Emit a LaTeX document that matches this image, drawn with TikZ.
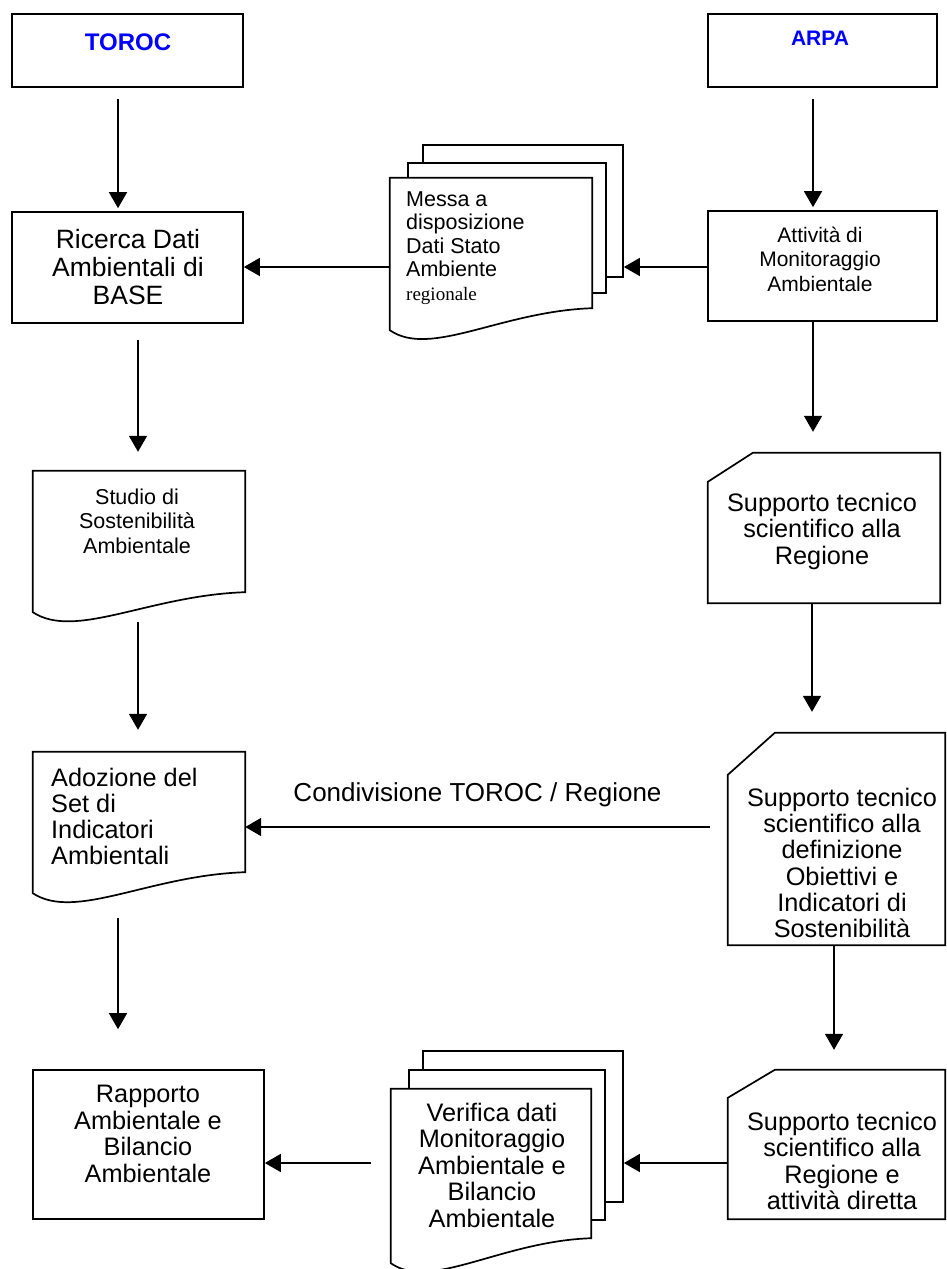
\documentclass[tikz,border=0pt]{standalone}
\usepackage{fontspec}
\setmainfont{Liberation Sans}
\newfontfamily\regfont{Liberation Serif}
\usetikzlibrary{positioning,arrows.meta,calc}
\definecolor{cHead}{HTML}{0000FF}

\tikzset{
  frame/.style={draw=black, line width=1.7pt, fill=white},
  box/.style={frame, rectangle, inner sep=0pt},
  blank/.style={rectangle, inner sep=0pt},
  txt/.style={align=center, inner sep=0pt},
  headtxt/.style={txt, text=cHead, font=\bfseries},
  arr/.style={line width=1.6pt, -{Triangle[length=16pt,width=18pt]}},
}
% sheet with a wavy foot
\newcommand{\docsheet}[2]{%
  \draw[frame] (#1.south west) -- (#1.north west) -- (#1.north east)
    -- ($(#1.south east)+(0,-#2)$)
    .. controls ($(#1.south west)!0.55!(#1.south east)+(0,-#2+3)$)
       and ($(#1.south west)!0.2!(#1.south east)+(0,28)$) .. (#1.south west) -- cycle;}
% card with the top left corner cut
\newcommand{\cardsheet}[3]{%
  \draw[frame] ($(#1.north west)+(0,#3)$) -- ($(#1.north west)+(#2,0)$)
    -- (#1.north east) -- (#1.south east) -- (#1.south west) -- cycle;}

\begin{document}
\begin{tikzpicture}[x=1pt, y=-1pt]
  \useasboundingbox (0,0) rectangle (947,1269);
  \coordinate (toprow) at (0,267);
  \coordinate (midrow) at (0,827);
  \coordinate (lowrow) at (0,1163);

  % TOROC side
  \node[box, minimum width=231pt, minimum height=73pt]  (toroc)   at (127.5,50.5)  {};
  \node[box, minimum width=231pt, minimum height=111pt] (ricerca) at (127.5,267.5) {};
  \node[blank, minimum width=212pt, minimum height=141pt] (studio)   at (139,541.5) {};
  \node[blank, minimum width=212pt, minimum height=141pt] (adozione) at (139,822.5) {};
  \node[box, minimum width=231pt, minimum height=149pt] (rapporto) at (148.5,1144.5) {};
  \docsheet{studio}{20}
  \docsheet{adozione}{21}

  % ARPA side
  \node[box, minimum width=229pt, minimum height=73pt]  (arpa)     at (822.5,50.5) {};
  \node[box, minimum width=229pt, minimum height=110pt] (attivita) at (822.5,266)  {};
  \node[blank, minimum width=232pt, minimum height=150pt] (supporto1) at (824,528)     {};
  \node[blank, minimum width=217pt, minimum height=212pt] (supporto2) at (836.5,839)   {};
  \node[blank, minimum width=217pt, minimum height=149pt] (supporto3) at (836.5,1144.5) {};
  \cardsheet{supporto1}{45}{29}
  \cardsheet{supporto2}{47}{42}
  \cardsheet{supporto3}{47}{28}

  % stacked sheets
  \node[box, minimum width=200pt, minimum height=132pt] (messaback) at (523,211) {};
  \node[box, minimum width=198pt, minimum height=130pt] (messamid)  at (507,228) {};
  \node[blank, minimum width=202pt, minimum height=152pt] (messa)   at (491,254) {};
  \docsheet{messa}{22}
  \node[box, minimum width=200pt, minimum height=151pt] (verifback) at (523,1126.5) {};
  \node[box, minimum width=196pt, minimum height=150pt] (verifmid)  at (507,1145)   {};
  \node[blank, minimum width=200pt, minimum height=174pt] (verifica) at (491,1176)  {};
  \docsheet{verifica}{25}

  % texts
  \node[headtxt, font=\fontsize{24}{28}\selectfont\bfseries] (torocTxt) at (128,42) {TOROC};
  \node[headtxt, font=\fontsize{21}{25}\selectfont\bfseries] (arpaTxt)  at (820,38) {ARPA};
  \node[txt, font=\fontsize{26.5}{28}\selectfont] (ricercaTxt) at (128,267)
    {Ricerca Dati\\Ambientali di\\BASE};
  \node[txt, font=\fontsize{21}{24.5}\selectfont] (attivitaTxt) at (820,259)
    {Attività di\\Monitoraggio\\Ambientale};
  \node[txt, align=left, anchor=west, font=\fontsize{21.5}{23.5}\selectfont] (messaTxt) at (406,248)
    {Messa a\\disposizione\\Dati Stato\\Ambiente\\{\regfont\fontsize{19}{23.5}\selectfont regionale}};
  \node[txt, font=\fontsize{21.5}{24.5}\selectfont] (studioTxt) at (137,521)
    {Studio di\\Sostenibilità\\Ambientale};
  \node[txt, font=\fontsize{25.3}{26.5}\selectfont] (supporto1Txt) at (822,531)
    {Supporto tecnico\\scientifico alla\\Regione};
  \node[txt, align=left, anchor=west, font=\fontsize{25.3}{26}\selectfont] (adozioneTxt) at (51,816)
    {Adozione del\\Set di\\Indicatori\\Ambientali};
  \node[txt, font=\fontsize{25.3}{26.3}\selectfont] (supporto2Txt) at (842,863)
    {Supporto tecnico\\scientifico alla\\definizione\\Obiettivi e\\Indicatori di\\Sostenibilità};
  \node[txt, font=\fontsize{25.3}{26.5}\selectfont] (rapportoTxt) at (148,1134)
    {Rapporto\\Ambientale e\\Bilancio\\Ambientale};
  \node[txt, font=\fontsize{25.3}{26.5}\selectfont] (verificaTxt) at (492,1165)
    {Verifica dati\\Monitoraggio\\Ambientale e\\Bilancio\\Ambientale};
  \node[txt, font=\fontsize{25.3}{26.5}\selectfont] (supporto3Txt) at (842,1161)
    {Supporto tecnico\\scientifico alla\\Regione e\\attività diretta};

  % vertical flow
  \draw[arr] ($(toroc.south)+(-9.5,11)$) -- ($(toroc.south |- ricerca.north)+(-9.5,-3)$);
  \draw[arr] ($(ricerca.south)+(10.5,16)$) -- ($(ricerca.south |- studio.north)+(10.5,-19)$);
  \draw[arr] ($(studio.south)+(-1,10)$) -- ($(studio.south |- adozione.north)+(-1,-22)$);
  \draw[arr] ($(adozione.south)+(-21,25)$) -- ($(adozione.south |- rapporto.north)+(-21,-40)$);
  \draw[arr] ($(arpa.south)+(-9.5,11)$) -- ($(arpa.south |- attivita.north)+(-9.5,-3)$);
  \draw[arr] ($(attivita.south)+(-9.5,0)$) -- ($(attivita.south |- supporto1.north)+(-9.5,-21)$);
  \draw[arr] ($(supporto1.south)+(-12,0)$) -- ($(supporto1.south |- supporto2.north)+(-12,-21)$);
  \draw[arr] ($(supporto2.south)+(-2.5,0)$) -- ($(supporto2.south |- supporto3.north)+(-2.5,-20)$);

  % horizontal flow
  \draw[arr] (messa.west |- toprow) -- (ricerca.east |- toprow);
  \draw[arr] (attivita.west |- toprow) -- (messaback.east |- toprow);
  \draw[arr] ($(supporto2.west |- midrow)+(-18,0)$) --
    node[midway, yshift=32pt, inner sep=0pt, font=\fontsize{26}{30}\selectfont] (condLbl)
      {Condivisione TOROC / Regione}
    (adozione.east |- midrow);
  \draw[arr] ($(verifica.west |- lowrow)+(-20,0)$) -- (rapporto.east |- lowrow);
  \draw[arr] (supporto3.west |- lowrow) -- (verifback.east |- lowrow);
\end{tikzpicture}
\end{document}
